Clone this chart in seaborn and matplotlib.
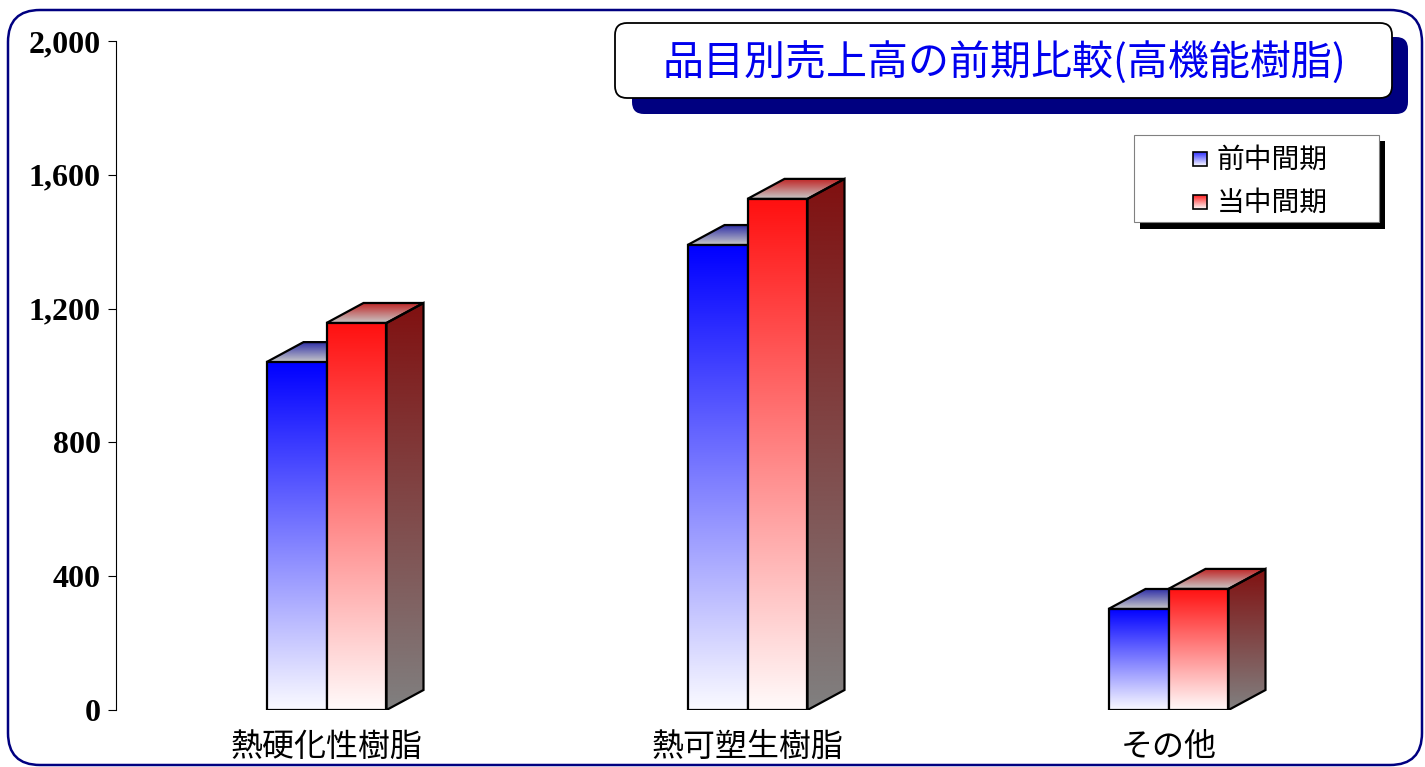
import numpy as np
import pandas as pd
import matplotlib
matplotlib.use("Agg")
import matplotlib.pyplot as plt
import matplotlib.colors as mcolors
from matplotlib.patches import FancyBboxPatch, Polygon, Rectangle
import seaborn as sns

# ---- data ----
categories = ["熱硬化性樹脂", "熱可塑生樹脂", "その他"]
periods = ["前中間期", "当中間期"]
prev_values = [1040, 1390, 302]
curr_values = [1157, 1528, 362]
y_ticks = [0, 400, 800, 1200, 1600, 2000]
title_text = "品目別売上高の前期比較(高機能樹脂)"

sns.set_theme(style="white")
plt.rcParams["font.family"] = ["Noto Sans CJK JP", "DejaVu Sans"]

W, H = 1425, 767
fig = plt.figure(figsize=(W / 100, H / 100), dpi=100, facecolor="white")
ax = fig.add_axes([116 / W, 57 / H, 1263 / W, 669 / H])
ax.set_facecolor("none")

df = pd.DataFrame({
    "品目": categories * 2,
    "期": [periods[0]] * len(categories) + [periods[1]] * len(categories),
    "売上高": prev_values + curr_values,
})

blue, red = "#0000ff", "#ff0000"
sns.barplot(data=df, x="品目", y="売上高", hue="期", order=categories,
            hue_order=periods, palette=[blue, red], width=0.285,
            saturation=1, errorbar=None, legend=False, ax=ax)

ax.set_autoscale_on(False)
ax.set_xlim(-0.5, 2.5)
ax.set_ylim(0, 2000)

# depth of the 3-D boxes, expressed in data units
dx = 37 / (1263 / 3)
dy = 20 / (669 / 2000)


def gradient(axis, clip, x0, x1, y0, y1, c_top, c_bot, z):
    t = np.linspace(0, 1, 256)[:, None]
    top = np.array(mcolors.to_rgb(c_top))
    bot = np.array(mcolors.to_rgb(c_bot))
    img = (top * (1 - t) + bot * t)[:, None, :]
    im = axis.imshow(img, extent=(x0, x1, y0, y1), origin="upper",
                     aspect="auto", interpolation="bilinear", zorder=z)
    im.set_clip_path(clip)
    return im


styles = {
    "prev": dict(front=("#0000ff", "#fafaff"), top=("#3030a8", "#c8c8c8"),
                 side=("#101060", "#808080"), z=2),
    "curr": dict(front=("#ff1010", "#fffafa"), top=("#c02828", "#c8c8c8"),
                 side=("#801010", "#808080"), z=5),
}

bars = list(ax.patches)
for bar in bars:
    x0, w, h = bar.get_x(), bar.get_width(), bar.get_height()
    centre = x0 + w / 2
    # the left bar of each pair belongs to the earlier period
    st = styles["prev"] if centre < round(centre) else styles["curr"]
    z = st["z"]

    # side face
    side = Polygon([(x0 + w, 0), (x0 + w + dx, dy), (x0 + w + dx, h + dy), (x0 + w, h)],
                   closed=True, facecolor="none", edgecolor="black", lw=1.6,
                   joinstyle="miter", zorder=z + 0.2)
    ax.add_patch(side)
    gradient(ax, side, x0 + w, x0 + w + dx, 0, h + dy, *st["side"], z)

    # top face
    topf = Polygon([(x0, h), (x0 + dx, h + dy), (x0 + w + dx, h + dy), (x0 + w, h)],
                   closed=True, facecolor="none", edgecolor="black", lw=1.6,
                   joinstyle="miter", zorder=z + 0.2)
    ax.add_patch(topf)
    gradient(ax, topf, x0, x0 + w + dx, h, h + dy, *st["top"], z)

    # front face
    bar.set_facecolor("none")
    bar.set_edgecolor("black")
    bar.set_linewidth(1.6)
    bar.set_joinstyle("miter")
    bar.set_zorder(z + 1.2)
    gradient(ax, bar, x0, x0 + w, 0, h, *st["front"], z + 1)

# axes styling
for s in ["top", "right", "bottom"]:
    ax.spines[s].set_visible(False)
ax.spines["left"].set_color("black")
ax.spines["left"].set_linewidth(0.8)
ax.set_yticks(y_ticks)
ax.set_yticklabels([f"{v:,}" for v in y_ticks])
ax.tick_params(axis="y", left=True, length=6, width=0.8, color="black", pad=5)
ax.tick_params(axis="x", bottom=False, length=0, pad=15)
for lbl in ax.get_yticklabels():
    lbl.set_fontfamily("Liberation Serif")
    lbl.set_fontweight("bold")
    lbl.set_fontsize(23)
    lbl.set_color("black")
for lbl in ax.get_xticklabels():
    lbl.set_fontsize(23)
    lbl.set_color("black")
ax.set_xlabel("")
ax.set_ylabel("")

# ---- overlay in pixel coordinates: frame, title box, legend ----
ov = fig.add_axes([0, 0, 1, 1], zorder=10)
ov.set_xlim(0, W)
ov.set_ylim(H, 0)
ov.axis("off")
ov.patch.set_alpha(0)

ov.add_patch(FancyBboxPatch((8, 10), 1414, 755,
                            boxstyle="round,pad=0,rounding_size=32",
                            facecolor="none", edgecolor="#000080", lw=1.8))

ov.add_patch(FancyBboxPatch((632, 37), 776, 77,
                            boxstyle="round,pad=0,rounding_size=12",
                            facecolor="#000080", edgecolor="none"))
ov.add_patch(FancyBboxPatch((615, 23), 777, 75,
                            boxstyle="round,pad=0,rounding_size=12",
                            facecolor="white", edgecolor="black", lw=1.3))
ov.text(1004, 62, title_text, color="#0000ee", fontsize=29.5,
        ha="center", va="center")

ov.add_patch(Rectangle((1140, 141), 245, 88, facecolor="black", edgecolor="none"))
ov.add_patch(Rectangle((1134, 135), 245, 87, facecolor="white",
                       edgecolor="#808080", lw=0.8))

legend_rows = [(periods[0], ("#3030ff", "#ffffff"), 159),
               (periods[1], ("#ff2020", "#ffffff"), 202)]
for label, cols, yc in legend_rows:
    sq = Rectangle((1193, yc - 7), 14, 14, facecolor="none",
                   edgecolor="black", lw=1.2, zorder=3)
    ov.add_patch(sq)
    gradient(ov, sq, 1193, 1207, yc + 7, yc - 7, *cols, 2)
    ov.text(1217, yc + 1, label, fontsize=20, color="black",
            ha="left", va="center")

fig.savefig("out.png", dpi=100, facecolor="white")
